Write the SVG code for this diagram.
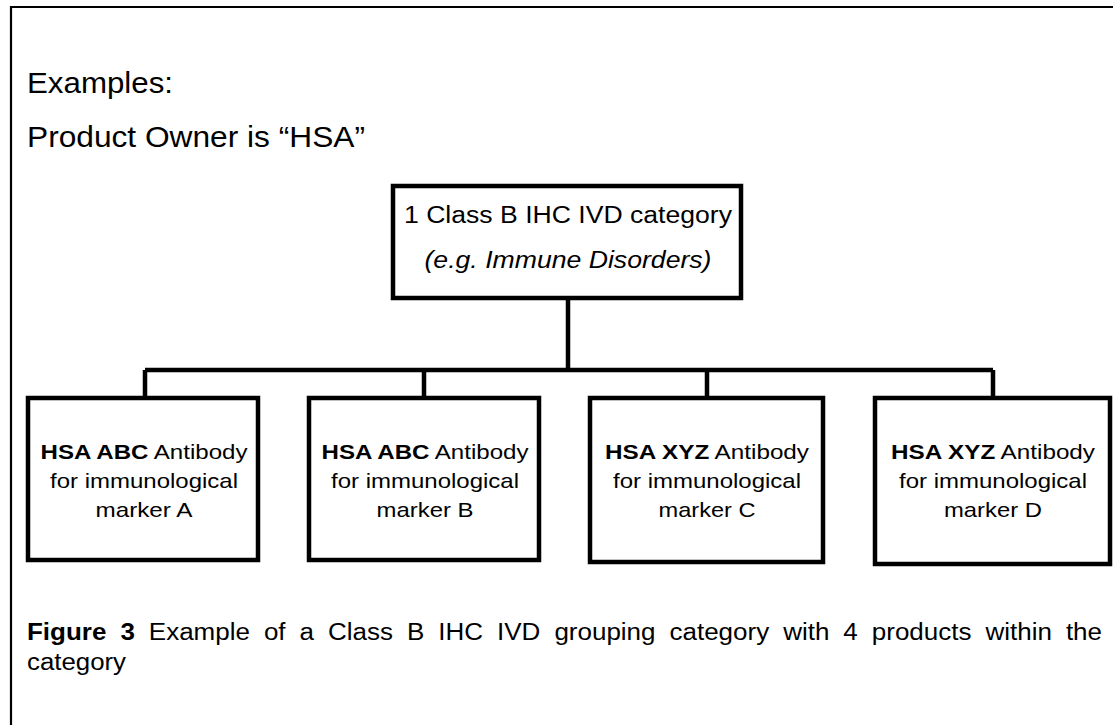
<svg xmlns="http://www.w3.org/2000/svg" width="1113" height="725" viewBox="0 0 1113 725">
<style>
text{font-family:"Liberation Sans",Arial,sans-serif;fill:#000}
.box{fill:#fff;stroke:#000;stroke-width:4.5}
.conn{fill:none;stroke:#000;stroke-width:4.5}
.frame{fill:none;stroke:#000;stroke-width:2.2}
.head{font-size:29px}
.t{font-size:23px;text-anchor:middle}
.b{font-size:21px;text-anchor:middle}
.cap{font-size:23px}
</style>
<rect width="1113" height="725" fill="#fff"/>
<path class="frame" d="M11,725 V7 H1113"/>
<text class="head" x="27" y="93" textLength="146" lengthAdjust="spacingAndGlyphs">Examples:</text>
<text class="head" x="27" y="147" textLength="338" lengthAdjust="spacingAndGlyphs">Product Owner is “HSA”</text>
<g id="connectors">
<path class="conn" d="M568,298 V370 M145,370 H993 M145,370 V398 M424,370 V398 M707,370 V398 M993,370 V398"/>
</g>
<g id="category">
<rect class="box" x="393" y="186" width="348" height="112"/>
<text class="t" x="568" y="223" textLength="328" lengthAdjust="spacingAndGlyphs">1 Class B IHC IVD category</text>
<text class="t" x="568" y="268" font-style="italic" textLength="287" lengthAdjust="spacingAndGlyphs">(e.g. Immune Disorders)</text>
</g>
<g id="productA">
<rect class="box" x="28" y="398" width="230" height="162"/>
<text class="b" x="144" y="459" textLength="207" lengthAdjust="spacingAndGlyphs"><tspan font-weight="bold">HSA ABC</tspan> Antibody</text>
<text class="b" x="144" y="488" textLength="188" lengthAdjust="spacingAndGlyphs">for immunological</text>
<text class="b" x="144" y="517" textLength="97" lengthAdjust="spacingAndGlyphs">marker A</text>
</g>
<g id="productB">
<rect class="box" x="309" y="398" width="230" height="162"/>
<text class="b" x="425" y="459" textLength="207" lengthAdjust="spacingAndGlyphs"><tspan font-weight="bold">HSA ABC</tspan> Antibody</text>
<text class="b" x="425" y="488" textLength="188" lengthAdjust="spacingAndGlyphs">for immunological</text>
<text class="b" x="425" y="517" textLength="97" lengthAdjust="spacingAndGlyphs">marker B</text>
</g>
<g id="productC">
<rect class="box" x="590" y="398" width="233" height="164"/>
<text class="b" x="707" y="459" textLength="204" lengthAdjust="spacingAndGlyphs"><tspan font-weight="bold">HSA XYZ</tspan> Antibody</text>
<text class="b" x="707" y="488" textLength="188" lengthAdjust="spacingAndGlyphs">for immunological</text>
<text class="b" x="707" y="517" textLength="97" lengthAdjust="spacingAndGlyphs">marker C</text>
</g>
<g id="productD">
<rect class="box" x="875" y="398" width="235" height="166"/>
<text class="b" x="993" y="459" textLength="204" lengthAdjust="spacingAndGlyphs"><tspan font-weight="bold">HSA XYZ</tspan> Antibody</text>
<text class="b" x="993" y="488" textLength="188" lengthAdjust="spacingAndGlyphs">for immunological</text>
<text class="b" x="993" y="517" textLength="98" lengthAdjust="spacingAndGlyphs">marker D</text>
</g>
<text class="cap" x="27" y="640" word-spacing="6" textLength="1075" lengthAdjust="spacingAndGlyphs"><tspan font-weight="bold">Figure 3</tspan> Example of a Class B IHC IVD grouping category with 4 products within the</text>
<text class="cap" x="27" y="670" textLength="99" lengthAdjust="spacingAndGlyphs">category</text>
</svg>
